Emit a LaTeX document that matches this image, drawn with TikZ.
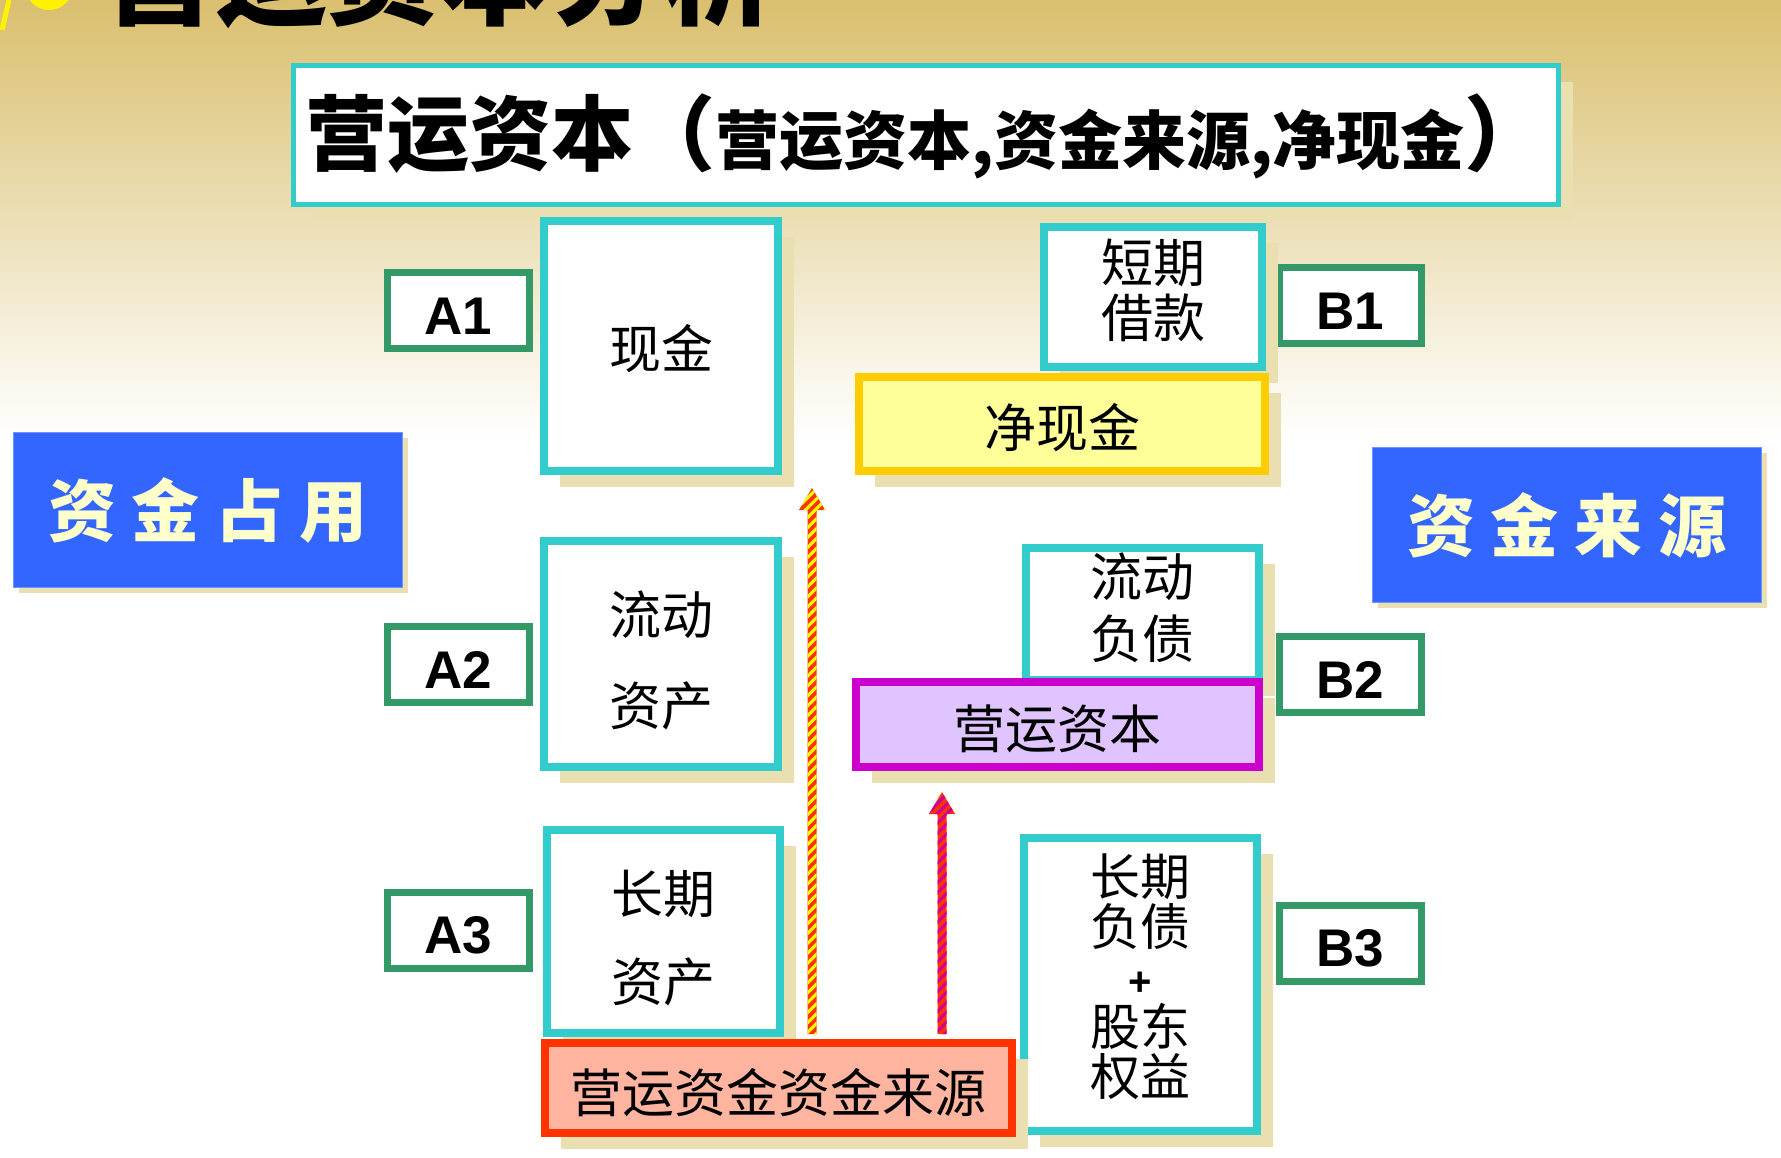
\documentclass[tikz,border=0pt]{standalone}
\usepackage{fontspec}
\newfontfamily\cjk{Noto Sans CJK SC}
\newfontfamily\lab{Liberation Sans}
\usetikzlibrary{shadows,patterns.meta}
\definecolor{bgtan}{HTML}{D9BF6E}
\definecolor{shadowtan}{HTML}{EADFB0}
\definecolor{tcyan}{HTML}{33CCCC}
\definecolor{tgreen}{HTML}{339966}
\definecolor{bluebox}{HTML}{3366FF}
\definecolor{bluetext}{HTML}{FFFFCC}
\definecolor{netfill}{HTML}{FFFF99}
\definecolor{netdraw}{HTML}{FFCC00}
\definecolor{wcfill}{HTML}{E0C4FF}
\definecolor{wcdraw}{HTML}{CC00CC}
\definecolor{srcfill}{HTML}{FFB4A0}
\definecolor{srcdraw}{HTML}{FF3300}
\definecolor{arrowred}{HTML}{FF3300}
\definecolor{stripeyellow}{HTML}{FFFF00}
\definecolor{stripemagenta}{HTML}{CC0099}

\begin{document}
\begin{tikzpicture}[x=1pt, y=-1pt, every node/.style={inner sep=0pt, outer sep=0pt},
	sink/.style={execute at begin node={\rule{0pt}{#1}}},
	lift/.style={execute at end node={\rule[-#1]{0pt}{0pt}}},
	pane/.style={draw=tcyan, line width=8pt, fill=white, align=center, font=\cjk\fontsize{52}{52}\selectfont, drop shadow={shadow xshift=16pt, shadow yshift=-16pt, fill=shadowtan, opacity=1}},
	tag/.style={draw=tgreen, line width=7pt, fill=white, minimum width=142pt, minimum height=76pt, font=\lab\bfseries\fontsize{53}{53}\selectfont, sink=47pt},
	side/.style={draw=bluebox!70!white, line width=1pt, fill=bluebox, text=bluetext, minimum width=389pt, minimum height=155pt, font=\cjk\bfseries\fontsize{68}{68}\selectfont, drop shadow={shadow xshift=5pt, shadow yshift=-5pt, fill=shadowtan, opacity=1}}]
	\useasboundingbox (0,0) rectangle (1781,1157);
	\fill[white] (0,0) rectangle (1781,1157);
	\shade[top color=bgtan, bottom color=white] (0,0) rectangle (1781,440);
	\fill[yellow] (49,-14) circle[radius=24];
	\draw[yellow, line width=5pt] (2,30) -- (9,0);
	\node[anchor=base west, font=\cjk\bfseries\fontsize{112}{112}\selectfont] (heading) at (103,16) {营运资本分析};

	\node[draw=tcyan, line width=5pt, fill=white, minimum width=1265pt, minimum height=139pt, font=\cjk\bfseries\fontsize{82}{82}\selectfont, sink=74pt, drop shadow={shadow xshift=14pt, shadow yshift=-16pt, fill=shadowtan, opacity=1}] (title) at (926,135) {营运资本（{\fontsize{64}{64}\selectfont 营运资本,资金来源,净现金}）};

	\node[side] (use) at (208,510) {资\hspace{16pt}金\hspace{16pt}占\hspace{16pt}用};
	\node[side] (source) at (1567,525) {资\hspace{16pt}金\hspace{16pt}来\hspace{16pt}源};

	\node[tag] (A1) at (458.5,310.5) {A1};
	\node[tag] (A2) at (458.5,664.5) {A2};
	\node[tag] (A3) at (458.5,930) {A3};
	\node[tag] (B1) at (1350.5,305.5) {B1};
	\node[tag] (B2) at (1350.5,674.5) {B2};
	\node[tag] (B3) at (1350.5,943) {B3};

	\node[pane, minimum width=234pt, minimum height=250pt, sink=50pt] (cash) at (661,346) {现金};
	\node[pane, minimum width=234pt, minimum height=226pt, font=\cjk\fontsize{52}{91}\selectfont] (curasset) at (661,654) {\rule{0pt}{56pt}流动\\资产};
	\node[pane, minimum width=233pt, minimum height=203pt, font=\cjk\fontsize{52}{88}\selectfont] (ltasset) at (663.5,931.5) {\rule{0pt}{56pt}长期\\资产};

	\node[pane, minimum width=218pt, minimum height=140pt, font=\cjk\fontsize{52}{55}\selectfont, lift=18pt] (stloan) at (1153,297) {短期\\借款};
	\node[pane, draw=netdraw, fill=netfill, minimum width=406pt, minimum height=94pt, sink=52pt] (netcash) at (1062,424) {净现金};
	\node[pane, minimum width=233pt, minimum height=132pt, font=\cjk\fontsize{52}{62}\selectfont, lift=16pt] (curliab) at (1142.5,614) {流动\\负债};
	\node[pane, draw=wcdraw, fill=wcfill, minimum width=403pt, minimum height=85pt, sink=52pt] (wcap) at (1057.5,724.5) {营运资本};
	\node[pane, minimum width=233pt, minimum height=293pt, font=\cjk\fontsize{50}{50}\selectfont, lift=20pt] (ltfund) at (1140.5,984.5) {长期\\负债\\{\lab\bfseries\fontsize{40}{40}\selectfont +}\\股东\\权益};
	\node[pane, draw=srcdraw, fill=srcfill, minimum width=467pt, minimum height=90pt, sink=53pt] (wcsource) at (778.5,1088) {营运资金资金来源};

	\coordinate (tip1) at (812,488);
	\coordinate (foot1) at (tip1 |- wcsource.north);
	\coordinate (tip2) at (942,792);
	\coordinate (foot2) at (tip2 |- wcsource.north);
	\path[preaction={fill=arrowred}, pattern={Lines[angle=45,distance=7pt,line width=3pt]}, pattern color=stripeyellow] (foot1) ++(-4.5,-9) -- ++(0,-524) -- ++(-8.5,0) -- (tip1) -- ++(13,22) -- ++(-8.5,0) -- ++(0,524) -- cycle;
	\path[preaction={fill=arrowred}, pattern={Lines[angle=45,distance=7pt,line width=3pt]}, pattern color=stripemagenta] (foot2) ++(-4.5,-9) -- ++(0,-220) -- ++(-8.5,0) -- (tip2) -- ++(13,22) -- ++(-8.5,0) -- ++(0,220) -- cycle;
\end{tikzpicture}
\end{document}
